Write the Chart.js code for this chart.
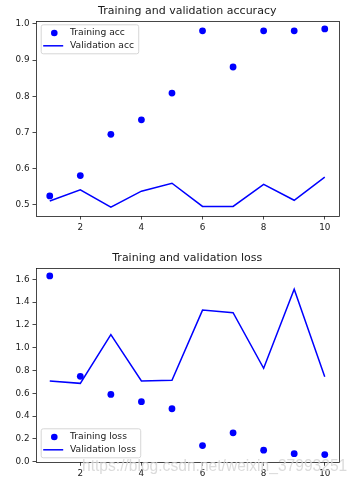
<!DOCTYPE html>
<html>
<head>
<meta charset="utf-8">
<script src="https://cdn.jsdelivr.net/npm/chart.js@4/dist/chart.umd.min.js"></script>
<style>
  html, body { margin: 0; padding: 0; background: #fff; }
  #wrap { position: relative; width: 357px; height: 485px; }
  .box { position: absolute; left: 0; width: 357px; }
  #wm { position: absolute; left: 82px; top: 457px; font: 15.6px 'Liberation Sans', Arial, sans-serif;
        color: rgba(190,190,190,0.55); white-space: nowrap; pointer-events: none;
        text-shadow: 0 0 1px rgba(255,255,255,0.8); }
</style>
</head>
<body>
<div id="wrap">
  <div class="box" style="top:0;height:240px"><canvas id="acc" width="357" height="240"></canvas></div>
  <div class="box" style="top:240px;height:245px"><canvas id="loss" width="357" height="245"></canvas></div>
  <div id="wm">https://blog.csdn.net/weixin_37993251</div>
</div>
<script>
const epochs = [1, 2, 3, 4, 5, 6, 7, 8, 9, 10];
const trainAcc = [0.525, 0.581, 0.695, 0.735, 0.809, 0.981, 0.881, 0.981, 0.981, 0.986];
const valAcc = [0.511, 0.542, 0.494, 0.538, 0.560, 0.496, 0.496, 0.557, 0.513, 0.577];
const trainLoss = [1.630, 0.749, 0.590, 0.526, 0.464, 0.141, 0.253, 0.100, 0.070, 0.062];
const valLoss = [0.708, 0.687, 1.114, 0.708, 0.714, 1.330, 1.307, 0.819, 1.513, 0.744];
const xTicks = [2, 4, 6, 8, 10];
const accTicks = [0.5, 0.6, 0.7, 0.8, 0.9, 1.0];
const lossTicks = [0.0, 0.2, 0.4, 0.6, 0.8, 1.0, 1.2, 1.4, 1.6];

const FONT = "'DejaVu Sans', sans-serif";
const BLUE = '#0000ff';
const INK = '#1a1a1a';

function pts(xs, ys) { return xs.map((x, i) => ({ x: x, y: ys[i] })); }

const decorPlugin = {
  id: 'decor',
  afterDatasetsDraw(chart, args, opts) {
    const ctx = chart.ctx;
    const a = chart.chartArea;
    ctx.save();
    // frame
    ctx.strokeStyle = INK;
    ctx.lineWidth = 0.8;
    ctx.strokeRect(Math.round(a.left) + 0.5, Math.round(a.top) + 0.5,
                   Math.round(a.right) - Math.round(a.left), Math.round(a.bottom) - Math.round(a.top));
    // title
    ctx.fillStyle = INK;
    ctx.font = '11px ' + FONT;
    ctx.textAlign = 'center';
    ctx.textBaseline = 'middle';
    ctx.fillText(opts.title, (a.left + a.right) / 2, a.top - 9.5);
    // legend
    ctx.font = '9.2px ' + FONT;
    const labels = chart.data.datasets.map(d => d.label);
    const tw = Math.max(...labels.map(t => ctx.measureText(t).width));
    const w = 29 + tw + 4.5;
    const h = 29;
    const lx = a.left + 4.7;
    const ly = opts.legendPos === 'top' ? a.top + 3.3 : a.bottom - 5 - h;
    ctx.beginPath();
    if (ctx.roundRect) ctx.roundRect(lx + 0.5, ly + 0.5, w, h, 2); else ctx.rect(lx + 0.5, ly + 0.5, w, h);
    ctx.fillStyle = 'rgba(255,255,255,0.85)';
    ctx.fill();
    ctx.strokeStyle = '#d6d6d6';
    ctx.lineWidth = 1;
    ctx.stroke();
    const rows = [ly + 8.7, ly + 21.5];
    // marker row
    ctx.fillStyle = BLUE;
    ctx.beginPath();
    ctx.arc(lx + 13.6, rows[0], 3.3, 0, Math.PI * 2);
    ctx.fill();
    // line row
    ctx.strokeStyle = BLUE;
    ctx.lineWidth = 1.5;
    ctx.beginPath();
    ctx.moveTo(lx + 2.5, rows[1]);
    ctx.lineTo(lx + 22.5, rows[1]);
    ctx.stroke();
    ctx.fillStyle = INK;
    ctx.textAlign = 'left';
    ctx.textBaseline = 'middle';
    labels.forEach((t, i) => ctx.fillText(t, lx + 29.3, rows[i]));
    ctx.restore();
  }
};

function makeChart(id, title, tr, va, trLabel, vaLabel, yMin, yMax, yTicks, topPad, xH, legendPos) {
  return new Chart(document.getElementById(id), {
    type: 'scatter',
    data: {
      datasets: [
        { label: trLabel, data: pts(epochs, tr), showLine: false, pointRadius: 3.4,
          pointBackgroundColor: BLUE, pointBorderColor: BLUE, pointBorderWidth: 0, order: 1 },
        { label: vaLabel, data: pts(epochs, va), showLine: true, pointRadius: 0,
          borderColor: BLUE, borderWidth: 1.5, backgroundColor: BLUE, order: 2 }
      ]
    },
    options: {
      responsive: false,
      animation: false,
      devicePixelRatio: 1,
      layout: { padding: { left: 0, right: 18.5, top: topPad, bottom: 0 } },
      plugins: {
        legend: { display: false },
        title: { display: false },
        tooltip: { enabled: false },
        decor: { title: title, legendPos: legendPos }
      },
      scales: {
        x: {
          type: 'linear', min: 0.55, max: 10.45,
          afterBuildTicks: s => { s.ticks = xTicks.map(v => ({ value: v })); },
          afterFit: s => { s.height = xH; },
          grid: { drawOnChartArea: false, drawTicks: true, tickLength: 3.5, tickColor: INK, tickWidth: 0.8 },
          border: { display: false },
          ticks: { color: INK, font: { family: FONT, size: 8.8 }, padding: 3, maxRotation: 0,
                   callback: v => String(v) }
        },
        y: {
          type: 'linear', min: yMin, max: yMax,
          afterBuildTicks: s => { s.ticks = yTicks.map(v => ({ value: v })); },
          afterFit: s => { s.width = 36; },
          grid: { drawOnChartArea: false, drawTicks: true, tickLength: 3.5, tickColor: INK, tickWidth: 0.8 },
          border: { display: false },
          ticks: { color: INK, font: { family: FONT, size: 8.8 }, padding: 3,
                   callback: v => Number(v).toFixed(1) }
        }
      }
    },
    plugins: [decorPlugin]
  });
}

makeChart('acc', 'Training and validation accuracy', trainAcc, valAcc, 'Training acc', 'Validation acc',
          0.4695, 1.008, accTicks, 21, 24, 'top');
makeChart('loss', 'Training and validation loss', trainLoss, valLoss, 'Training loss', 'Validation loss',
          -0.006, 1.702, lossTicks, 27.7, 22.7, 'bottom');
</script>
</body>
</html>
